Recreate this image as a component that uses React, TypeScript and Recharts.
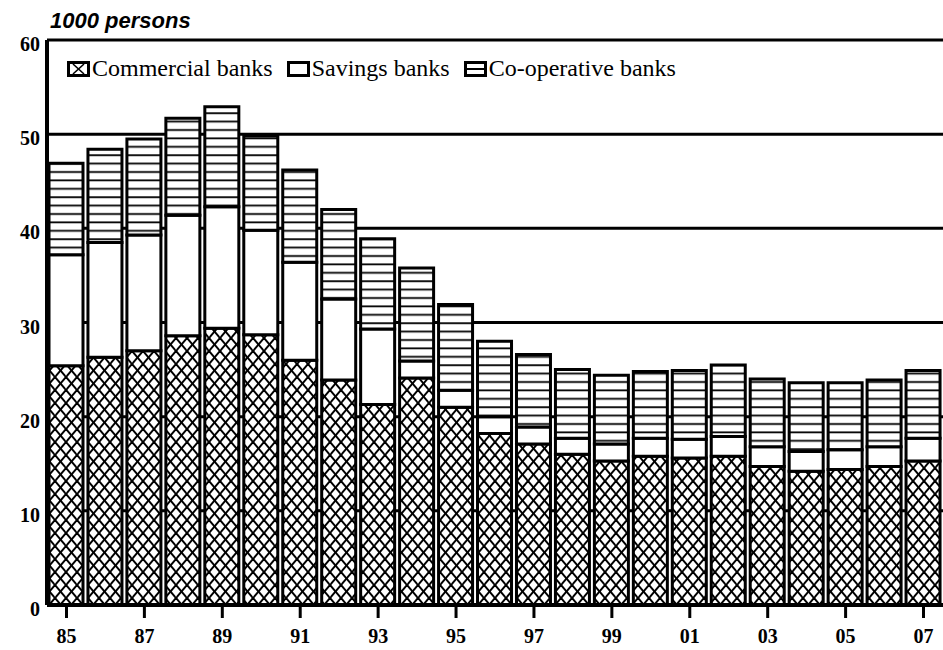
import { BarChart, Bar, XAxis, YAxis, CartesianGrid, Legend } from 'recharts'

const years = ['85', '86', '87', '88', '89', '90', '91', '92', '93', '94', '95', '96', '97', '98', '99', '00', '01', '02', '03', '04', '05', '06', '07']
const commercial = [25.4, 26.3, 27.0, 28.6, 29.4, 28.7, 26.0, 23.9, 21.3, 24.1, 21.0, 18.2, 17.1, 16.0, 15.3, 15.8, 15.6, 15.8, 14.7, 14.2, 14.4, 14.7, 15.3]
const savings = [11.8, 12.2, 12.3, 12.8, 12.9, 11.1, 10.4, 8.6, 8.0, 1.8, 1.8, 1.8, 1.8, 1.7, 1.8, 1.9, 2.0, 2.1, 2.1, 2.1, 2.1, 2.1, 2.4]
const coop = [9.7, 9.9, 10.2, 10.3, 10.6, 10.0, 9.8, 9.5, 9.6, 9.9, 9.1, 8.0, 7.7, 7.3, 7.3, 7.1, 7.3, 7.6, 7.2, 7.3, 7.1, 7.1, 7.2]
const yTicks = [0, 10, 20, 30, 40, 50, 60]

const data = years.map((y, i) => ({
  year: y,
  commercial: commercial[i],
  savings: savings[i],
  coop: coop[i],
}))

const serif = '"Liberation Serif", "Times New Roman", serif'

function LegendIcon({ kind }: { kind: string }) {
  return (
    <svg width={23} height={16} style={{ display: 'block' }}>
      <rect x={1.5} y={1.5} width={20} height={13} fill="#fff" stroke="#000" strokeWidth={3} />
      {kind === 'commercial' && (
        <g stroke="#000" strokeWidth={1.6}>
          <line x1={6} y1={3} x2={17} y2={13} />
          <line x1={17} y1={3} x2={6} y2={13} />
        </g>
      )}
      {kind === 'coop' && <line x1={2} y1={8} x2={21} y2={8} stroke="#000" strokeWidth={2} />}
    </svg>
  )
}

const legendItems = [
  { key: 'commercial', label: 'Commercial banks' },
  { key: 'savings', label: 'Savings banks' },
  { key: 'coop', label: 'Co-operative banks' },
]

function renderLegend() {
  return (
    <div style={{ display: 'flex', alignItems: 'center', gap: 14, fontFamily: serif, fontSize: 24, color: '#000', whiteSpace: 'nowrap' }}>
      {legendItems.map((it) => (
        <div key={it.key} style={{ display: 'flex', alignItems: 'center', gap: 2 }}>
          <LegendIcon kind={it.key} />
          <span>{it.label}</span>
        </div>
      ))}
    </div>
  )
}

export default function App() {
  return (
    <div style={{ position: 'absolute', left: 0, top: 0, width: 943, height: 650, background: '#fff' }}>
      <div
        style={{
          position: 'absolute',
          left: 50,
          top: 8,
          fontFamily: '"Liberation Sans", Arial, sans-serif',
          fontStyle: 'italic',
          fontWeight: 'bold',
          fontSize: 22,
          color: '#000',
        }}
      >
        1000 persons
      </div>
      <BarChart width={943} height={650} data={data} margin={{ top: 40, right: 0, bottom: 0, left: 0 }} barSize={34}>
        <defs>
          <pattern id="hatchCross" patternUnits="userSpaceOnUse" width={11} height={13}>
            <rect width={11} height={13} fill="#fff" />
            <line x1={0} y1={0} x2={11} y2={13} stroke="#000" strokeWidth={2} />
            <line x1={11} y1={0} x2={0} y2={13} stroke="#000" strokeWidth={2} />
          </pattern>
          <pattern id="hatchH" patternUnits="userSpaceOnUse" width={10} height={8.4}>
            <rect width={10} height={8.4} fill="#fff" />
            <line x1={0} y1={4} x2={10} y2={4} stroke="#000" strokeWidth={1.8} />
          </pattern>
        </defs>
        <CartesianGrid vertical={false} stroke="#000" strokeWidth={3} />
        <XAxis
          dataKey="year"
          interval={1}
          height={45}
          tickSize={13}
          tickMargin={11}
          axisLine={{ stroke: '#000', strokeWidth: 4 }}
          tickLine={{ stroke: '#000', strokeWidth: 3 }}
          tick={{ fill: '#000', fontFamily: serif, fontWeight: 'bold', fontSize: 20 }}
        />
        <YAxis
          domain={[0, 60]}
          ticks={yTicks}
          width={47}
          tickLine={false}
          tickSize={0}
          tickMargin={7}
          axisLine={{ stroke: '#000', strokeWidth: 4 }}
          tick={{ fill: '#000', fontFamily: serif, fontWeight: 'bold', fontSize: 20, dy: 4 }}
        />
        <Legend
          content={renderLegend}
          layout="horizontal"
          verticalAlign="middle"
          align="center"
          wrapperStyle={{ position: 'absolute', top: 55, left: 67, width: 'auto' }}
        />
        <Bar dataKey="commercial" stackId="a" fill="url(#hatchCross)" stroke="#000" strokeWidth={3} isAnimationActive={false} />
        <Bar dataKey="savings" stackId="a" fill="#fff" stroke="#000" strokeWidth={3} isAnimationActive={false} />
        <Bar dataKey="coop" stackId="a" fill="url(#hatchH)" stroke="#000" strokeWidth={3} isAnimationActive={false} />
      </BarChart>
    </div>
  )
}
